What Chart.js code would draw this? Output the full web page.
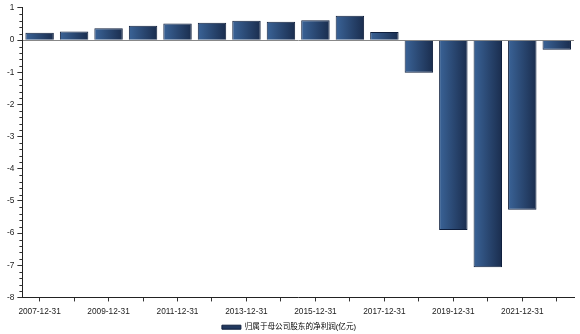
<!DOCTYPE html>
<html>
<head>
<meta charset="utf-8">
<script src="https://cdn.jsdelivr.net/npm/chart.js@4"></script>
<style>
html,body{margin:0;padding:0;background:#fff;}
#wrap{width:580px;height:334px;}
</style>
</head>
<body>
<div id="wrap"><canvas id="c"></canvas></div>
<script>
const categories = ['2007-12-31','2008-12-31','2009-12-31','2010-12-31','2011-12-31','2012-12-31','2013-12-31','2014-12-31','2015-12-31','2016-12-31','2017-12-31','2018-12-31','2019-12-31','2020-12-31','2021-12-31','2022-12-31'];
const netProfit = [0.23, 0.27, 0.37, 0.45, 0.52, 0.54, 0.60, 0.57, 0.62, 0.76, 0.25, -1.01, -5.90, -7.06, -5.27, -0.30];
const seriesName = '归属于母公司股东的净利润(亿元)';
const yTicks = [1, 0, -1, -2, -3, -4, -5, -6, -7, -8];

const FONT = "'Liberation Sans', 'Noto Sans CJK SC', sans-serif";
const BAR_PCT = 0.825;

function barGradient(ctx) {
  const chart = ctx.chart;
  const xs = chart.scales.x;
  if (!xs || ctx.dataIndex === undefined) return '#2c4a75';
  const cx = xs.getPixelForValue(ctx.dataIndex);
  const w = Math.abs(xs.getPixelForValue(1) - xs.getPixelForValue(0)) * BAR_PCT;
  if (!isFinite(cx) || !isFinite(w)) return '#2c4a75';
  const g = chart.ctx.createLinearGradient(cx - w / 2, 0, cx + w / 2, 0);
  g.addColorStop(0, '#3a6397');
  g.addColorStop(1, '#1a2d4e');
  return g;
}

const minorTicks = {
  id: 'minorTicks',
  afterDraw(chart) {
    const ys = chart.scales.y;
    const c = chart.ctx;
    c.save();
    c.strokeStyle = '#333';
    c.lineWidth = 1;
    const x0 = ys.right;
    for (let v = ys.min; v <= ys.max + 1e-9; v += 0.2) {
      const r = Math.round(v * 5) / 5;
      if (Math.abs(r - Math.round(r)) < 1e-6) continue;
      const y = Math.round(ys.getPixelForValue(r)) + 0.5;
      c.beginPath();
      c.moveTo(x0 - 3, y);
      c.lineTo(x0, y);
      c.stroke();
    }
    c.restore();
  }
};

new Chart(document.getElementById('c'), {
  type: 'bar',
  data: {
    labels: categories,
    datasets: [{
      label: seriesName,
      data: netProfit,
      backgroundColor: barGradient,
      borderColor: '#0f1f3d',
      borderWidth: 1,
      barPercentage: BAR_PCT,
      categoryPercentage: 1
    }]
  },
  options: {
    responsive: true,
    maintainAspectRatio: false,
    animation: false,
    layout: { padding: { left: 4, right: 6, top: 7, bottom: -7 } },
    plugins: {
      tooltip: { enabled: false },
      legend: {
        position: 'bottom',
        labels: {
          font: { family: FONT, size: 7.6 },
          color: '#222',
          boxWidth: 19,
          boxHeight: 4,
          padding: 2,
          generateLabels(chart) {
            return [{
              text: seriesName,
              fillStyle: '#22395f',
              strokeStyle: '#0f1f3d',
              lineWidth: 1,
              datasetIndex: 0
            }];
          }
        }
      }
    },
    scales: {
      x: {
        grid: { display: true, drawOnChartArea: false, offset: false, tickLength: 4, color: '#333' },
        border: { display: true, color: '#222', width: 1 },
        ticks: {
          autoSkip: false,
          maxRotation: 0,
          minRotation: 0,
          padding: 5,
          color: '#222',
          font: { family: FONT, size: 8.3 },
          callback(v, i) { return i % 2 === 0 ? categories[i] : ''; }
        }
      },
      y: {
        min: -8,
        max: 1,
        afterBuildTicks(scale) { scale.ticks = yTicks.map(v => ({ value: v })); },
        grid: {
          drawOnChartArea: true,
          tickLength: 5,
          color(ctx) { return ctx.tick && ctx.tick.value === 0 ? '#888' : 'rgba(0,0,0,0)'; },
          tickColor: '#333'
        },
        border: { display: true, color: '#222', width: 1 },
        ticks: {
          padding: 3,
          color: '#222',
          font: { family: FONT, size: 8.3 },
          callback(v) { return String(v); }
        }
      }
    }
  },
  plugins: [minorTicks]
});
</script>
</body>
</html>
